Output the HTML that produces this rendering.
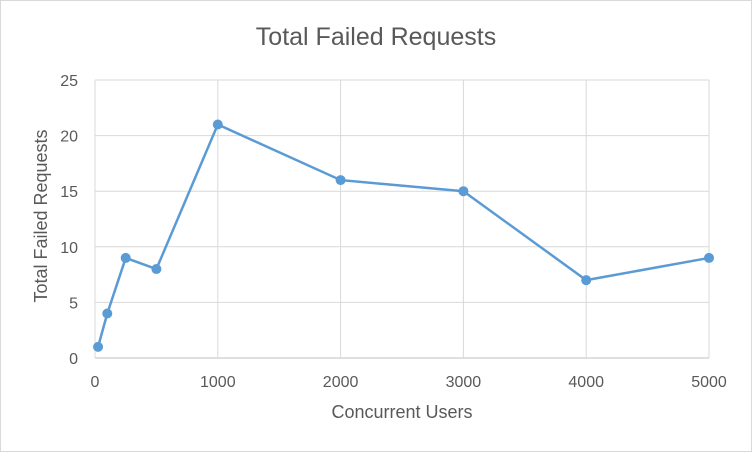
<!DOCTYPE html>
<html><head><meta charset="utf-8"><style>
body{margin:0;background:#fff}
svg{display:block;font-family:"Liberation Sans",sans-serif}
</style></head><body>
<svg id="chart" width="752" height="452" viewBox="0 0 752 452">
<rect x="0.5" y="0.5" width="751" height="451" fill="#fff" stroke="#d9d9d9"/>
<text x="376" y="45" text-anchor="middle" font-size="25" fill="#595959">Total Failed Requests</text>
<g id="grid"></g><g id="axes"></g><g id="series"></g>
<text x="402" y="418" text-anchor="middle" font-size="18" fill="#595959">Concurrent Users</text>
<text transform="translate(47,216) rotate(-90)" text-anchor="middle" font-size="18" fill="#595959">Total Failed Requests</text>
</svg>
<script>
const xValues=[25,100,250,500,1000,2000,3000,4000,5000];
const yValues=[1,4,9,8,21,16,15,7,9];
const xTicks=[0,1000,2000,3000,4000,5000];
const yTicks=[0,5,10,15,20,25];
const NS="http://www.w3.org/2000/svg";
const X=v=>95+v*(614/5000), Y=v=>358-v*(278/25);
function mk(t,a,p){const e=document.createElementNS(NS,t);for(const k in a)e.setAttribute(k,a[k]);p.appendChild(e);return e;}
const g=document.getElementById('grid'),ax=document.getElementById('axes'),s=document.getElementById('series');
yTicks.forEach(v=>{
 const l=mk('line',{x1:95,x2:709,y1:Y(v),y2:Y(v),stroke:v===0?'#bfbfbf':'#d9d9d9'},g);
 
 
 const t=mk('text',{x:78,y:Y(v)+6,'text-anchor':'end','font-size':16,fill:'#595959'},ax);t.textContent=v;
 
 
});
xTicks.forEach(v=>{
 const l=mk('line',{x1:X(v),x2:X(v),y1:Y(25),y2:Y(0),stroke:'#d9d9d9'},g);
 
 
 const t=mk('text',{x:X(v),y:387,'text-anchor':'middle','font-size':16,fill:'#595959'},ax);t.textContent=v;
 
 
});
const pl=mk('polyline',{points:xValues.map((x,i)=>X(x)+','+Y(yValues[i])).join(' '),fill:'none',stroke:'#5b9bd5','stroke-width':2.5},s);


xValues.forEach((x,i)=>{
 const c=mk('circle',{cx:X(x),cy:Y(yValues[i]),r:5,fill:'#5b9bd5'},s);
 
 
});
</script>
</body></html>
